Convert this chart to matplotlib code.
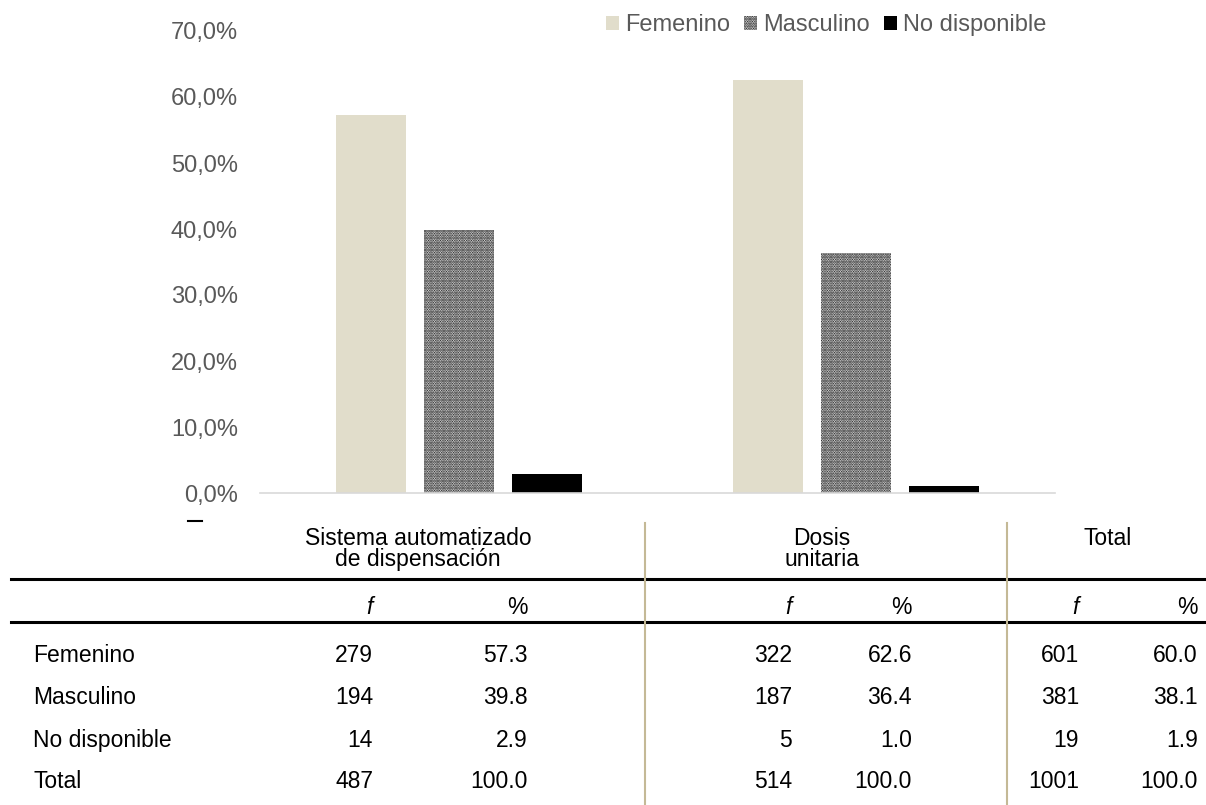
import matplotlib.pyplot as plt
import numpy as np
from matplotlib.patches import Patch
from matplotlib.lines import Line2D

plt.rcParams["font.family"] = ["Liberation Sans", "DejaVu Sans"]
plt.rcParams["hatch.linewidth"] = 1.25

# data
groups = ["Sistema automatizado\nde dispensación", "Dosis\nunitaria", "Total"]
row_labels = ["Femenino", "Masculino", "No disponible", "Total"]
sad_f = [279, 194, 14, 487]
sad_pct = [57.3, 39.8, 2.9, 100.0]
du_f = [322, 187, 5, 514]
du_pct = [62.6, 36.4, 1.0, 100.0]
tot_f = [601, 381, 19, 1001]
tot_pct = [60.0, 38.1, 1.9, 100.0]

W, H = 1206, 805

def fx(x):
    return x / W

def fy(y):
    return 1 - y / H

fig = plt.figure(figsize=(W / 100, H / 100), dpi=100)

# bar chart (only the two systems, not the total)
ax = fig.add_axes([fx(260), fy(493), 795 / W, 462 / H])
x = np.arange(2)
bw = 0.176
off = 0.2214
fem = [sad_pct[0], du_pct[0]]
masc = [sad_pct[1], du_pct[1]]
nd = [sad_pct[2], du_pct[2]]
dots = "......."
ax.bar(x - off, fem, bw, color="#e1ddcb")
ax.bar(x, masc, bw, color="white", edgecolor="black", linewidth=0, hatch=dots)
ax.bar(x + off, nd, bw, color="black")

ax.set_xlim(-0.5, 1.5)
ax.set_ylim(0, 70)
ax.set_xticks([])
ticks = np.arange(0, 71, 10)
ax.set_yticks(ticks)
ax.set_yticklabels([("%.1f%%" % t).replace(".", ",") for t in ticks])
ax.tick_params(axis="y", length=0, pad=16, labelsize=17, labelcolor="#595959")
for s in ["top", "right", "left"]:
    ax.spines[s].set_visible(False)
ax.spines["bottom"].set_color("#d9d9d9")
ax.spines["bottom"].set_linewidth(1.2)

handles = [Patch(facecolor="#e1ddcb", label="Femenino"),
           Patch(facecolor="white", edgecolor="black", linewidth=0, hatch=dots, label="Masculino"),
           Patch(facecolor="black", label="No disponible")]
fig.legend(handles=handles, loc="center left", bbox_to_anchor=(fx(606), fy(25)),
           ncol=3, frameon=False, fontsize=17, labelcolor="#595959",
           handlelength=0.55, handleheight=0.55, handletextpad=0.25,
           columnspacing=0.6, borderpad=0, borderaxespad=0)

# little dash under the axis labels
fig.add_artist(Line2D([fx(188), fx(202)], [fy(521), fy(521)], color="black", lw=1.5))

# table lines
for yy in [579, 622]:
    fig.add_artist(Line2D([fx(11), fx(1206)], [fy(yy), fy(yy)], color="black", lw=2.2))
for xx in [645, 1007]:
    fig.add_artist(Line2D([fx(xx), fx(xx)], [fy(523), fy(805)], color="#c4b996", lw=1.5))

# table headers
fs = 16.5
head_x = [418, 822, 1108]
for hx, g in zip(head_x, groups):
    fig.text(fx(hx), fy(527), g, ha="center", va="top", fontsize=fs, linespacing=0.88)

cols_f = [373, 792, 1079]
cols_p = [528, 912, 1198]
for cf, cp in zip(cols_f, cols_p):
    fig.text(fx(cf), fy(607), "f", ha="right", va="center", fontsize=fs, style="italic")
    fig.text(fx(cp), fy(607), "%", ha="right", va="center", fontsize=fs)

row_y = [655, 697, 740, 781]
for i, lab in enumerate(row_labels):
    fig.text(fx(33), fy(row_y[i]), lab, ha="left", va="center", fontsize=fs)
    for cf, cp, fv, pv in zip(cols_f, cols_p, [sad_f, du_f, tot_f], [sad_pct, du_pct, tot_pct]):
        fig.text(fx(cf), fy(row_y[i]), str(fv[i]), ha="right", va="center", fontsize=fs)
        fig.text(fx(cp), fy(row_y[i]), "%.1f" % pv[i], ha="right", va="center", fontsize=fs)

fig.savefig("out.png", dpi=100)
